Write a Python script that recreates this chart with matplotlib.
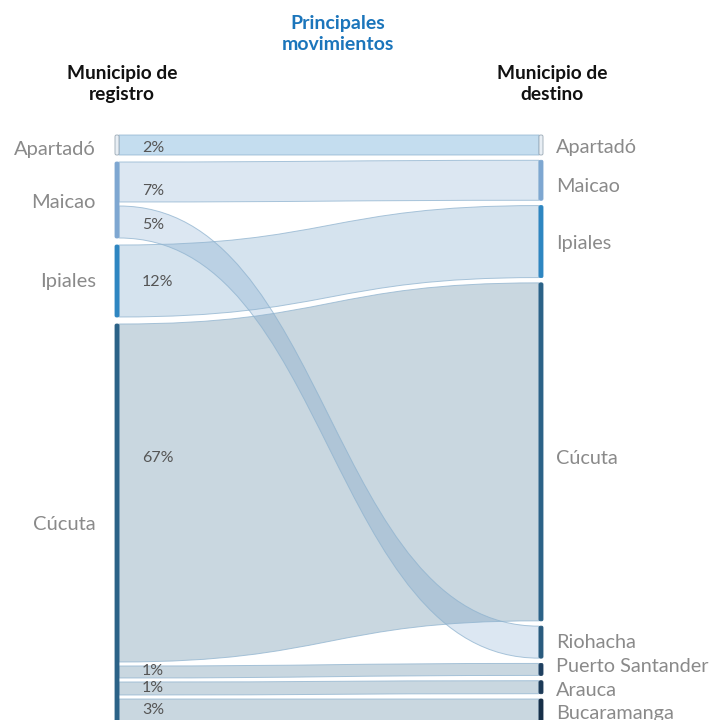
import matplotlib.pyplot as plt
from matplotlib.path import Path
import matplotlib.patches as patches

plt.rcParams['font.family'] = ['Lato', 'DejaVu Sans']

# nodes (origin / destination)
left_nodes = ['Apartadó', 'Maicao', 'Ipiales', 'Cúcuta']
right_nodes = ['Apartadó', 'Maicao', 'Ipiales', 'Cúcuta', 'Riohacha',
               'Puerto Santander', 'Arauca', 'Bucaramanga']

# links
sources = ['Apartadó', 'Maicao', 'Maicao', 'Ipiales', 'Cúcuta', 'Cúcuta', 'Cúcuta', 'Cúcuta']
targets = ['Apartadó', 'Maicao', 'Riohacha', 'Ipiales', 'Cúcuta',
           'Puerto Santander', 'Arauca', 'Bucaramanga']
pct_labels = [2, 7, 5, 12, 67, 1, 1, 3]
# band thickness (relative units)
band_size = [20, 40, 32, 72, 338, 12, 13, 23]

# colours
left_node_colors = {'Apartadó': '#e8eef4', 'Maicao': '#7ea7d1',
                    'Ipiales': '#2e86c1', 'Cúcuta': '#2b6287'}
right_node_colors = {'Apartadó': '#e8eef4', 'Maicao': '#7ea7d1', 'Ipiales': '#2e86c1',
                     'Cúcuta': '#2b6287', 'Riohacha': '#2a5b7e',
                     'Puerto Santander': '#1f4060', 'Arauca': '#1c3a57',
                     'Bucaramanga': '#172f48'}
link_colors = {'Apartadó': ('#b0d2ea', 0.75), 'Maicao': ('#7ea7d1', 0.27),
               'Ipiales': ('#5f93bf', 0.26), 'Cúcuta': ('#2b6287', 0.25)}

# layout (pixel space)
W, H = 725, 720
x_left, x_right, bar_w = 115, 539, 4
top, bottom = 135, 722
link_gap = 4
pct_dy = [3, 9, 3, 1, -35, -1, 0, 0]
left_dy = [4, 3, 0, 1]
right_dy = [3, 6, 2, 7, 0, -3, 3, 3]

fig = plt.figure(figsize=(W / 100, H / 100), dpi=100)
ax = fig.add_axes([0, 0, 1, 1])
ax.set_xlim(0, W)
ax.set_ylim(H, 0)
ax.axis('off')


def column_layout(nodes, side):
    heights = {}
    for n in nodes:
        ws = [w for s, t, w in zip(sources, targets, band_size) if (s if side == 'L' else t) == n]
        heights[n] = sum(ws) + link_gap * (len(ws) - 1)
    gap = (bottom - top - sum(heights.values())) / (len(nodes) - 1)
    pos = {}
    y = top
    for n in nodes:
        pos[n] = (y, y + heights[n])
        y += heights[n] + gap
    return pos


lpos = column_layout(left_nodes, 'L')
rpos = column_layout(right_nodes, 'R')

lcur = {n: lpos[n][0] for n in left_nodes}
rcur = {n: rpos[n][0] for n in right_nodes}

x0 = x_left + bar_w
x1 = x_right
xm = (x0 + x1) / 2
for i, (s, t, w) in enumerate(zip(sources, targets, band_size)):
    y0a = lcur[s]; y0b = y0a + w
    y1a = rcur[t]; y1b = y1a + w
    lcur[s] = y0b + link_gap
    rcur[t] = y1b + link_gap
    verts = [(x0, y0a), (xm, y0a), (xm, y1a), (x1, y1a),
             (x1, y1b), (xm, y1b), (xm, y0b), (x0, y0b), (x0, y0a)]
    codes = [Path.MOVETO, Path.CURVE4, Path.CURVE4, Path.CURVE4,
             Path.LINETO, Path.CURVE4, Path.CURVE4, Path.CURVE4, Path.CLOSEPOLY]
    col, a = link_colors[s]
    ax.add_patch(patches.PathPatch(Path(verts, codes), facecolor=col, alpha=a,
                                   edgecolor='none', zorder=2))
    ax.add_patch(patches.PathPatch(Path(verts, codes), facecolor='none',
                                   edgecolor='#8fb3cf', linewidth=0.7, alpha=0.75, zorder=3))
    ax.text(142, (y0a + y0b) / 2 + pct_dy[i], f'{pct_labels[i]}%', fontsize=11.5,
            color='#555555', va='center', ha='left', zorder=5)

for i, n in enumerate(left_nodes):
    y0, y1 = lpos[n]
    ec = '#9aa9b5' if n == 'Apartadó' else left_node_colors[n]
    ax.add_patch(patches.FancyBboxPatch((x_left, y0), bar_w, y1 - y0,
                                        boxstyle='round,pad=0,rounding_size=1.5',
                                        facecolor=left_node_colors[n], edgecolor=ec,
                                        linewidth=0.6, zorder=4))
    ax.text(96, (y0 + y1) / 2 + left_dy[i], n, fontsize=14.5, color='#8a8a8a',
            ha='right', va='center')

for i, n in enumerate(right_nodes):
    y0, y1 = rpos[n]
    ec = '#9aa9b5' if n == 'Apartadó' else right_node_colors[n]
    ax.add_patch(patches.FancyBboxPatch((x_right, y0), bar_w, y1 - y0,
                                        boxstyle='round,pad=0,rounding_size=1.5',
                                        facecolor=right_node_colors[n], edgecolor=ec,
                                        linewidth=0.6, zorder=4))
    ax.text(556, (y0 + y1) / 2 + right_dy[i], n, fontsize=14.3, color='#8a8a8a',
            ha='left', va='center')

ax.text(338, 34, 'Principales\nmovimientos', fontsize=14, fontweight='bold',
        color='#1b75bb', ha='center', va='center', linespacing=1.28)
ax.text(122, 84, 'Municipio de\nregistro', fontsize=13.8, fontweight='bold',
        color='#111111', ha='center', va='center', linespacing=1.28)
ax.text(552, 84, 'Municipio de\ndestino', fontsize=13.8, fontweight='bold',
        color='#111111', ha='center', va='center', linespacing=1.28)

fig.savefig('out.png', dpi=100)
